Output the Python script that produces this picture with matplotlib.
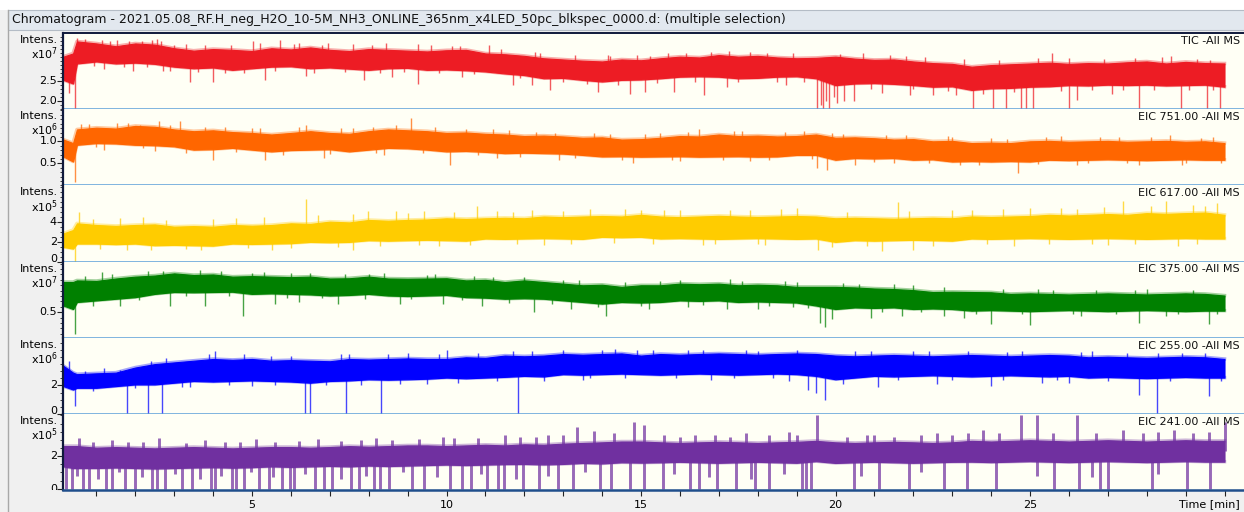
import numpy as np
import matplotlib
matplotlib.use("Agg")
import matplotlib.pyplot as plt
from matplotlib.patches import Rectangle
from matplotlib.lines import Line2D
from matplotlib.ticker import FixedLocator, MultipleLocator
from matplotlib.transforms import blended_transform_factory, offset_copy

W, H = 1244, 512

TITLE = ("Chromatogram - 2021.05.08_RF.H_neg_H2O_10-5M_NH3_ONLINE_365nm_x4LED_"
         "50pc_blkspec_0000.d: (multiple selection)")

# retention time grid [min]
t = [0.15, 0.4, 0.5, 1.0, 1.5, 2.0, 2.5, 3.0, 3.5, 4.0, 4.5, 5.0, 5.5, 6.0, 6.5,
     7.0, 7.5, 8.0, 8.5, 9.0, 9.5, 10.0, 10.5, 11.0, 11.5, 12.0, 12.5, 13.0, 13.5,
     14.0, 14.5, 15.0, 15.5, 16.0, 16.5, 17.0, 17.5, 18.0, 18.5, 19.0, 19.5, 20.0,
     20.5, 21.0, 21.5, 22.0, 22.5, 23.0, 23.5, 24.0, 24.5, 25.0, 25.5, 26.0, 26.5,
     27.0, 27.5, 28.0, 28.5, 29.0, 29.5, 30.0]

# --- TIC (x1e7): noise band upper / lower edge, large spikes, edge noise
tic_hi = [3.10, 3.18, 3.48, 3.43, 3.36, 3.43, 3.40, 3.31, 3.25, 3.29, 3.27, 3.24, 3.31, 3.28,
          3.33, 3.27, 3.24, 3.29, 3.27, 3.25, 3.23, 3.26, 3.27, 3.18, 3.16, 3.12, 3.06, 3.03,
          3.00, 2.98, 3.03, 3.01, 3.06, 3.10, 3.08, 3.14, 3.10, 3.12, 3.08, 3.06, 3.07, 3.10,
          3.05, 3.02, 3.03, 2.98, 2.94, 2.92, 2.85, 2.89, 2.91, 2.93, 2.95, 2.92, 2.94, 2.93,
          2.96, 2.98, 2.93, 2.97, 2.94, 2.93]
tic_lo = [2.52, 2.43, 2.93, 2.98, 2.93, 2.95, 2.92, 2.85, 2.81, 2.83, 2.77, 2.81, 2.85, 2.86,
          2.81, 2.83, 2.80, 2.77, 2.81, 2.82, 2.77, 2.78, 2.76, 2.73, 2.68, 2.64, 2.56, 2.57,
          2.52, 2.48, 2.52, 2.53, 2.56, 2.60, 2.61, 2.60, 2.56, 2.57, 2.60, 2.61, 2.56, 2.39,
          2.43, 2.44, 2.42, 2.39, 2.35, 2.36, 2.27, 2.31, 2.32, 2.35, 2.36, 2.39, 2.38, 2.40,
          2.39, 2.40, 2.38, 2.39, 2.40, 2.35]
tic_dn_t = [0.30, 0.46, 1.93, 3.41, 4.00, 5.33, 7.89, 9.26, 11.72, 12.66, 13.89, 14.72, 15.10,
            15.86, 16.61, 18.74, 19.53, 19.62, 19.68, 19.75, 19.83, 19.95, 20.03, 20.22, 20.48,
            21.91, 23.10, 23.54, 24.05, 24.38, 24.76, 24.91, 25.07, 25.99, 26.22, 27.80, 28.89,
            29.56, 29.88, 1.2, 2.7, 6.4, 8.6, 10.4, 12.2, 17.2, 21.2, 22.5, 27.1]
tic_dn_v = [2.20, 1.79, 2.73, 2.48, 2.48, 2.52, 2.52, 2.43, 2.39, 2.27, 2.23, 2.18, 2.23,
            2.23, 2.14, 2.39, 1.79, 1.90, 1.79, 2.00, 1.79, 2.10, 1.95, 2.00, 2.00,
            2.14, 2.14, 1.79, 1.79, 1.79, 1.79, 1.79, 1.79, 1.79, 2.02, 1.79, 1.79,
            1.79, 1.79, 2.80, 2.75, 2.62, 2.60, 2.58, 2.40, 2.35, 2.20, 2.15, 2.18]
tic_up_t = [0.51, 1.34, 1.54, 2.18, 2.43, 2.67, 3.31, 5.03, 5.72, 6.07, 6.95, 8.09, 9.27,
            10.15, 11.09, 12.27, 14.14, 15.22, 16.16, 17.25, 18.24, 20.12, 21.80, 25.56,
            28.63, 29.62]
tic_up_v = [3.56, 3.50, 3.52, 3.50, 3.52, 3.48, 3.42, 3.48, 3.52, 3.42, 3.45, 3.40, 3.42,
            3.36, 3.39, 3.22, 3.15, 3.12, 3.20, 3.23, 3.18, 3.17, 3.12, 3.20,
            3.12, 3.02]
tic_fr_t = [0.7, 0.95, 1.15, 1.7, 1.85, 2.3, 2.55, 2.9, 3.0, 3.6, 3.8, 4.3, 4.45, 4.8, 5.2,
            5.6, 6.2, 6.6, 6.8, 7.4, 7.6, 8.3, 8.45, 8.9, 9.6, 9.8, 10.35, 10.7, 11.4, 11.9,
            12.4, 13.0, 13.3, 13.6, 14.2, 14.4, 14.9, 15.4, 15.7, 16.4, 16.8, 17.5, 17.8, 18.5,
            18.9, 19.2, 20.7, 20.9, 21.4, 22.0, 22.3, 22.9, 23.3, 23.8, 24.2, 24.6, 25.2, 25.8,
            26.0, 26.6, 26.9, 27.4, 27.7, 28.2, 28.4, 29.1, 29.3, 29.7]
tic_fr_v = [3.55, 2.86, 3.52, 2.84, 3.50, 2.85, 3.55, 2.75, 3.40, 2.72, 3.39, 2.70, 3.40, 2.70,
            3.44, 2.74, 3.45, 2.70, 3.40, 2.72, 3.41, 2.68, 3.44, 2.72, 3.38, 2.68, 3.36, 2.66,
            3.30, 2.56, 3.20, 2.46, 3.15, 2.42, 3.11, 2.40, 3.15, 2.45, 3.20, 2.48, 3.22, 2.46,
            3.22, 2.48, 3.18, 2.46, 3.18, 2.30, 3.14, 2.30, 3.10, 2.25, 3.05, 2.18, 3.02, 2.22,
            3.06, 2.25, 3.06, 2.28, 3.05, 2.27, 3.06, 2.28, 3.08, 2.27, 3.05, 2.28]

# --- EIC 751 (x1e6)
e751_hi = [1.04, 0.96, 1.27, 1.31, 1.29, 1.35, 1.33, 1.27, 1.23, 1.25, 1.21, 1.19, 1.155, 1.19,
           1.23, 1.19, 1.17, 1.23, 1.27, 1.25, 1.23, 1.19, 1.20, 1.17, 1.155, 1.12, 1.13, 1.11,
           1.08, 1.09, 1.04, 1.05, 1.08, 1.12, 1.11, 1.155, 1.12, 1.13, 1.11, 1.12, 1.155, 1.08,
           1.09, 1.07, 1.04, 1.05, 1.00, 1.01, 0.96, 0.97, 0.96, 1.00, 1.01, 0.99, 1.00, 1.01,
           0.99, 1.00, 1.01, 0.99, 1.00, 0.96]
e751_lo = [0.655, 0.54, 0.92, 0.96, 0.95, 0.92, 0.91, 0.885, 0.81, 0.82, 0.85, 0.81, 0.77, 0.80,
           0.81, 0.82, 0.77, 0.81, 0.85, 0.84, 0.81, 0.77, 0.78, 0.76, 0.73, 0.74, 0.73, 0.72,
           0.69, 0.655, 0.66, 0.65, 0.655, 0.66, 0.65, 0.655, 0.66, 0.65, 0.655, 0.69, 0.69,
           0.58, 0.62, 0.61, 0.62, 0.58, 0.59, 0.54, 0.55, 0.54, 0.55, 0.54, 0.58, 0.57, 0.58,
           0.59, 0.58, 0.57, 0.58, 0.59, 0.58, 0.58]
e751_dn_t = [0.46, 1.2, 2.5, 4.0, 5.33, 6.85, 8.4, 10.1, 11.3, 12.9, 14.8, 16.0, 17.8, 19.53,
             19.78, 20.5, 21.5, 23.2, 24.7, 26.2, 27.8, 28.9, 29.9]
e751_dn_v = [0.08, 0.80, 0.77, 0.58, 0.58, 0.62, 0.70, 0.46, 0.62, 0.58, 0.50, 0.55, 0.55, 0.385,
             0.35, 0.46, 0.50, 0.46, 0.27, 0.46, 0.46, 0.46, 0.50]
e751_up_t = [0.6, 1.54, 2.13, 2.62, 3.16, 4.3, 5.0, 6.4, 7.3, 8.1, 9.1, 10.5, 11.6, 12.8, 14.2,
             15.5, 16.5, 17.6, 19.2, 19.9, 21.3, 22.9, 24.0, 25.8, 27.3, 28.6, 29.7]
e751_up_v = [1.40, 1.42, 1.38, 1.46, 1.46, 1.33, 1.31, 1.38, 1.30, 1.33, 1.54, 1.27, 1.25, 1.20,
             1.17, 1.19, 1.27, 1.23, 1.23, 1.19, 1.15, 1.12, 1.08, 1.12, 1.10, 1.15, 1.10]
e751_fr_t = [0.8, 1.0, 1.8, 2.2, 2.9, 3.3, 3.8, 4.6, 5.2, 5.8, 6.2, 7.0, 7.6, 8.2, 8.7, 9.4,
             9.7, 10.8, 11.2, 11.9, 12.3, 13.3, 13.8, 14.5, 15.1, 15.8, 16.2, 17.1, 17.4, 18.3,
             18.7, 19.4, 20.2, 21.0, 21.8, 22.4, 23.0, 23.7, 24.4, 25.2, 25.4, 26.5, 26.8, 27.5,
             28.1, 29.0, 29.4]
e751_fr_v = [1.40, 0.86, 1.42, 0.84, 1.36, 0.74, 1.33, 0.76, 1.30, 0.70, 1.32, 0.72, 1.30, 0.74,
             1.36, 0.74, 1.32, 0.68, 1.27, 0.64, 1.22, 0.62, 1.19, 0.58, 1.17, 0.58, 1.22, 0.58,
             1.23, 0.58, 1.22, 0.60, 1.16, 0.52, 1.14, 0.50, 1.10, 0.46, 1.06, 0.48, 1.10, 0.50,
             1.10, 0.50, 1.10, 0.50, 1.08]

# --- EIC 617 (x1e5)
e617_hi = [2.84, 3.18, 3.86, 3.69, 3.60, 3.69, 3.75, 3.52, 3.58, 3.52, 3.69, 3.62, 3.69, 3.86,
           3.80, 4.03, 3.95, 4.20, 4.12, 4.20, 4.25, 4.37, 4.30, 4.37, 4.42, 4.37, 4.55, 4.48,
           4.55, 4.60, 4.55, 4.72, 4.55, 4.48, 4.55, 4.62, 4.55, 4.50, 4.55, 4.60, 4.55, 4.37,
           4.42, 4.37, 4.32, 4.37, 4.42, 4.37, 4.55, 4.50, 4.55, 4.60, 4.72, 4.65, 4.72, 4.80,
           4.72, 4.89, 4.82, 4.89, 4.95, 4.72]
e617_lo = [1.47, 1.30, 1.81, 1.81, 1.75, 1.81, 1.64, 1.68, 1.64, 1.60, 1.81, 1.77, 1.81, 1.85,
           1.98, 1.94, 1.98, 2.15, 2.10, 2.15, 2.19, 2.15, 2.10, 2.32, 2.28, 2.32, 2.36, 2.32,
           2.28, 2.49, 2.45, 2.49, 2.32, 2.36, 2.32, 2.28, 2.32, 2.36, 2.32, 2.28, 2.32, 1.98,
           2.15, 2.10, 2.15, 2.19, 2.15, 2.10, 2.32, 2.28, 2.32, 2.36, 2.32, 2.28, 2.32, 2.36,
           2.32, 2.28, 2.32, 2.36, 2.32, 2.32]
e617_dn_t = [0.46, 1.79, 3.3, 5.52, 7.59, 9.8, 12.5, 16.6, 18.2, 19.55, 21.2, 22.0, 24.6,
             27.0, 28.8]
e617_dn_v = [0.0, 1.13, 1.30, 1.13, 1.13, 1.60, 1.70, 1.70, 1.70, 1.13, 1.10, 1.13, 1.60,
             1.70, 1.60]
e617_up_t = [0.55, 2.2, 4.6, 6.38, 7.98, 8.7, 9.41, 10.79, 11.7, 13.0, 15.0, 15.6, 17.8, 19.0,
             21.6, 23.0, 25.0, 26.2, 27.4, 28.5, 29.2, 29.8]
e617_up_v = [5.0, 4.5, 4.4, 6.32, 5.06, 5.06, 5.06, 5.64, 5.0, 5.1, 5.23, 5.23, 5.2, 5.4,
             5.98, 5.2, 5.4, 5.3, 6.08, 6.08, 5.7, 5.9]
e617_fr_t = [0.9, 1.1, 1.6, 2.4, 2.8, 3.7, 4.0, 4.9, 5.3, 6.0, 6.7, 7.2, 7.6, 8.3, 9.0, 9.3,
             10.2, 10.6, 11.3, 11.8, 12.2, 13.2, 13.7, 14.3, 14.6, 15.3, 16.0, 16.9, 17.3, 18.0,
             18.6, 19.9, 20.3, 20.8, 21.9, 22.5, 23.5, 23.9, 24.3, 25.5, 25.8, 26.6, 26.9, 27.7,
             28.1, 29.3, 29.5]
e617_fr_v = [4.3, 1.3, 4.4, 1.2, 4.2, 1.2, 4.3, 1.4, 4.5, 1.4, 4.7, 1.5, 4.8, 1.6, 4.9, 1.7,
             5.0, 1.7, 5.1, 1.8, 5.2, 1.8, 5.3, 1.9, 5.3, 1.8, 5.2, 1.8, 5.2, 1.8,
             5.3, 1.5, 5.0, 1.6, 5.1, 1.6, 5.2, 1.8, 5.3, 1.8, 5.4, 1.8, 5.5, 1.8,
             5.6, 1.8, 5.6]

# --- EIC 375 (x1e7)
e375_hi = [1.06, 1.06, 1.09, 1.08, 1.125, 1.16, 1.18, 1.22, 1.19, 1.20, 1.16, 1.17, 1.16, 1.15,
           1.16, 1.125, 1.13, 1.16, 1.125, 1.12, 1.125, 1.13, 1.09, 1.10, 1.06, 1.09, 1.06,
           1.03, 1.00, 1.01, 0.97, 1.00, 1.00, 1.03, 1.02, 1.03, 1.00, 1.01, 1.00, 0.97, 0.97,
           0.97, 0.96, 0.94, 0.93, 0.91, 0.875, 0.88, 0.875, 0.87, 0.84, 0.85, 0.84, 0.83,
           0.84, 0.85, 0.84, 0.83, 0.84, 0.85, 0.84, 0.81]
e375_lo = [0.625, 0.56, 0.69, 0.72, 0.75, 0.78, 0.84, 0.875, 0.87, 0.875, 0.88, 0.84, 0.85,
           0.84, 0.83, 0.81, 0.82, 0.84, 0.81, 0.80, 0.81, 0.82, 0.78, 0.77, 0.75, 0.76, 0.75,
           0.72, 0.69, 0.66, 0.69, 0.68, 0.69, 0.72, 0.71, 0.72, 0.69, 0.70, 0.69, 0.68, 0.625,
           0.56, 0.59, 0.58, 0.59, 0.56, 0.57, 0.56, 0.53, 0.54, 0.53, 0.52, 0.53, 0.54, 0.53,
           0.52, 0.53, 0.54, 0.53, 0.52, 0.53, 0.53]
e375_dn_t = [0.46, 1.6, 2.9, 3.8, 4.77, 5.6, 6.2, 7.2, 8.8, 9.9, 10.9, 12.25, 13.2, 14.1, 15.2,
             16.2, 17.2, 18.0, 18.9, 19.6, 19.73, 19.9, 20.9, 21.7, 22.8, 23.3, 24.0, 25.0,
             26.3, 27.8, 28.5, 29.6]
e375_dn_v = [0.09, 0.62, 0.62, 0.62, 0.44, 0.66, 0.69, 0.66, 0.66, 0.66, 0.62, 0.50, 0.56,
             0.44, 0.56, 0.59, 0.56, 0.56, 0.59, 0.31, 0.22, 0.37, 0.40, 0.44, 0.44, 0.40,
             0.28, 0.26, 0.44, 0.31, 0.44, 0.28]
e375_up_t = [1.15, 2.33, 3.66, 5.0, 6.5, 8.0, 9.5, 11.2, 13.0, 15.5, 17.3, 19.0, 20.2, 22.0,
             25.2, 28.0]
e375_up_v = [1.25, 1.26, 1.28, 1.22, 1.22, 1.20, 1.19, 1.16, 1.10, 1.08, 1.11, 1.06, 1.05,
             1.00, 0.94, 0.94]
e375_fr_t = [0.7, 0.9, 1.4, 2.1, 2.7, 3.3, 4.2, 4.4, 5.3, 5.9, 6.0, 6.8, 7.4, 7.9, 8.4, 9.1,
             9.7, 10.4, 10.7, 11.6, 12.0, 12.7, 13.4, 13.9, 14.6, 15.0, 16.0, 16.6, 17.6, 18.3,
             18.7, 19.3, 20.6, 21.2, 21.5, 22.2, 22.8, 23.6, 24.3, 24.8, 25.6, 26.1, 26.7, 27.2,
             27.7, 28.8, 29.2, 29.8]
e375_fr_v = [1.17, 0.62, 1.20, 0.72, 1.27, 0.80, 1.26, 0.80, 1.24, 0.76, 1.23, 0.76, 1.20, 0.74,
             1.22, 0.74, 1.20, 0.72, 1.17, 0.68, 1.16, 0.66, 1.09, 0.60, 1.06, 0.62, 1.10, 0.64,
             1.08, 0.62, 1.08, 0.58, 1.03, 0.50, 1.02, 0.50, 0.96, 0.47, 0.93, 0.47, 0.92, 0.47,
             0.92, 0.46, 0.92, 0.46, 0.92, 0.47]

# --- EIC 255 (x1e6)
e255_hi = [3.38, 2.90, 2.79, 2.85, 2.90, 3.26, 3.50, 3.62, 3.74, 3.86, 3.80, 3.86, 3.74, 3.78,
           3.74, 3.70, 3.86, 3.82, 3.86, 3.90, 3.86, 3.86, 3.98, 3.94, 4.10, 4.05, 4.10, 4.21,
           4.16, 4.21, 4.25, 4.10, 4.21, 4.16, 4.21, 4.25, 4.21, 4.16, 4.21, 4.25, 4.21, 4.10,
           4.05, 4.10, 4.14, 4.10, 4.05, 4.10, 4.14, 4.10, 4.05, 4.10, 4.14, 4.10, 3.98, 4.02,
           3.98, 3.94, 3.98, 4.02, 3.98, 3.86]
e255_lo = [1.95, 1.71, 1.83, 1.83, 1.95, 2.07, 2.07, 2.19, 2.31, 2.27, 2.31, 2.35, 2.31, 2.27,
           2.19, 2.31, 2.35, 2.43, 2.40, 2.43, 2.47, 2.55, 2.50, 2.55, 2.60, 2.67, 2.63, 2.79,
           2.75, 2.79, 2.83, 2.79, 2.75, 2.79, 2.83, 2.79, 2.75, 2.79, 2.83, 2.79, 2.67, 2.43,
           2.55, 2.67, 2.63, 2.67, 2.71, 2.67, 2.63, 2.67, 2.71, 2.67, 2.63, 2.67, 2.55, 2.59,
           2.55, 2.51, 2.55, 2.59, 2.55, 2.55]
e255_dn_t = [0.46, 1.79, 2.33, 2.69, 3.4, 5.0, 6.36, 6.49, 7.42, 8.32, 9.5, 11.84, 13.5, 16.8,
             18.8, 19.3, 19.5, 19.73, 21.1, 22.6, 24.0, 25.3, 26.0, 27.8, 28.27, 29.6]
e255_dn_v = [0.57, 0.0, 0.0, 0.0, 1.90, 1.95, 0.0, 0.0, 0.0, 0.0, 2.10, 0.0, 2.40, 2.35,
             2.30, 1.70, 1.50, 1.00, 1.90, 2.10, 1.95, 2.20, 2.20, 1.36, 0.0, 1.24]
e255_up_t = [0.3, 1.2, 2.4, 4.05, 5.5, 7.3, 9.0, 10.0, 12.2, 14.33, 14.9, 16.2, 18.0, 20.5,
             22.4, 24.4, 26.6, 28.3, 29.5]
e255_up_v = [3.75, 3.20, 3.70, 4.40, 4.10, 4.20, 4.30, 4.52, 4.40, 4.57, 4.52, 4.50, 4.45,
             4.40, 4.40, 4.35, 4.40, 4.30, 4.30]
e255_fr_t = [0.7, 0.9, 1.6, 2.0, 2.8, 3.2, 3.9, 4.4, 4.8, 5.6, 6.0, 6.9, 7.5, 7.8, 8.5, 8.8,
             9.8, 10.3, 10.8, 11.3, 11.7, 12.5, 13.0, 13.7, 14.0, 14.6, 15.3, 15.9, 16.6, 17.4,
             17.7, 18.4, 19.0, 20.2, 20.9, 21.6, 22.0, 23.0, 23.4, 24.3, 24.8, 25.7, 26.3, 27.0,
             27.5, 28.6, 28.9, 29.9]
e255_fr_v = [3.0, 1.6, 3.1, 1.8, 3.9, 1.9, 4.2, 2.0, 4.2, 2.0, 4.1, 2.0, 4.2, 2.0, 4.2, 2.1,
             4.2, 2.2, 4.3, 2.3, 4.4, 2.3, 4.5, 2.5, 4.5, 2.5, 4.5, 2.5, 4.5, 2.5,
             4.5, 2.5, 4.5, 2.1, 4.4, 2.4, 4.4, 2.4, 4.4, 2.4, 4.4, 2.4, 4.35, 2.3,
             4.3, 2.3, 4.3, 2.3]

# --- EIC 241 (x1e5)
e241_hi = [2.62, 2.62, 2.62, 2.52, 2.56, 2.52, 2.48, 2.52, 2.56, 2.52, 2.48, 2.52, 2.56, 2.56,
           2.52, 2.56, 2.62, 2.58, 2.62, 2.66, 2.66, 2.62, 2.66, 2.70, 2.66, 2.73, 2.70, 2.77,
           2.81, 2.85, 2.90, 2.90, 2.85, 2.81, 2.85, 2.88, 2.85, 2.81, 2.85, 2.88, 2.94, 2.85,
           2.81, 2.85, 2.88, 2.85, 2.81, 2.85, 2.94, 2.90, 2.94, 2.98, 2.94, 2.90, 2.94, 2.98,
           2.94, 2.90, 2.94, 2.98, 2.94, 2.94]
e241_lo = [1.37, 1.27, 1.27, 1.27, 1.30, 1.27, 1.24, 1.27, 1.30, 1.32, 1.29, 1.32, 1.37, 1.34,
           1.37, 1.40, 1.37, 1.42, 1.39, 1.42, 1.45, 1.48, 1.45, 1.48, 1.51, 1.52, 1.49, 1.52,
           1.58, 1.55, 1.62, 1.60, 1.62, 1.65, 1.62, 1.59, 1.62, 1.65, 1.62, 1.59, 1.69, 1.58,
           1.62, 1.65, 1.62, 1.59, 1.62, 1.65, 1.66, 1.63, 1.66, 1.69, 1.66, 1.63, 1.66, 1.69,
           1.66, 1.63, 1.66, 1.69, 1.66, 1.66]
e241_dn_t = [0.21, 0.36, 0.51, 0.65, 0.80, 1.05, 1.25, 1.39, 1.59, 1.74,
             1.98, 2.18, 2.43, 2.57, 2.77, 3.02, 3.21, 3.46, 3.66,
             3.95, 4.05, 4.20, 4.49, 4.59, 4.79, 4.98, 5.18, 5.43, 5.53,
             5.77, 5.97, 6.07, 6.36, 6.61, 6.86, 7.05, 7.30, 7.54, 7.74,
             7.94, 8.13, 8.28, 8.53, 8.87, 9.12, 9.41, 9.76, 10.10, 10.40,
             10.64, 10.89, 11.04, 11.33, 11.48, 11.78, 11.97, 12.37, 12.61, 12.86,
             13.25, 13.55, 13.94, 14.24, 14.73, 15.07,
             15.56, 15.86, 16.26, 16.50, 16.75, 16.95, 17.45, 17.84, 17.94, 18.29,
             18.68, 19.13, 19.23, 19.38, 20.47, 20.66, 21.11, 21.90, 22.20, 22.79,
             23.39, 24.13, 25.17, 25.61, 26.26, 26.60, 26.80, 27.00, 28.14, 28.29,
             29.03, 29.62]
e241_dn_v = [0.0, 0.0, 0.8, 0.0, 0.0, 0.6, 0.0, 0.0, 1.0, 0.0,
             0.0, 0.7, 0.0, 0.0, 0.0, 0.9, 0.0, 0.0, 0.6,
             0.0, 0.0, 0.8, 0.0, 0.0, 0.0, 1.0, 0.0, 0.0, 0.7,
             0.0, 0.0, 0.0, 0.9, 0.0, 0.0, 0.0, 0.6, 0.0, 0.0,
             0.8, 0.0, 0.0, 0.0, 1.0, 0.0, 0.0, 0.7, 0.0, 0.0,
             0.0, 0.9, 0.0, 0.0, 0.0, 0.6, 0.0, 0.0, 0.8, 0.0,
             0.0, 1.0, 0.0, 0.0, 0.0, 0.0,
             0.0, 0.9, 0.0, 0.0, 0.7, 0.0, 0.0, 0.6, 0.0, 0.0,
             0.9, 0.0, 0.0, 0.0, 0.0, 0.8, 0.0, 0.0, 1.0, 0.0,
             0.0, 0.0, 0.8, 0.0, 0.0, 0.7, 0.0, 0.0, 0.0, 0.9,
             0.0, 0.0]
e241_up_t = [0.55, 1.4, 2.6, 3.8, 5.1, 6.7, 8.2, 9.9, 11.5, 12.6, 13.35, 13.8, 14.83, 15.07,
             16.4, 17.7, 18.8, 19.52, 21.0, 22.6, 23.8, 24.77, 25.17, 26.21, 27.4, 28.7, 30.0]
e241_up_v = [3.1, 3.0, 3.1, 3.0, 3.05, 3.05, 3.1, 3.2, 3.3, 3.3, 3.77, 3.56, 4.08, 3.9,
             3.3, 3.4, 3.5, 4.5, 3.3, 3.4, 3.6, 4.55, 4.5, 4.55, 3.6, 3.6, 4.08]
e241_fr_t = [0.9, 1.8, 2.2, 3.3, 4.3, 4.7, 5.6, 6.2, 7.3, 7.8, 8.6, 9.3, 10.2, 10.8, 11.9,
             12.3, 13.0, 14.3, 15.6, 16.0, 16.9, 17.3, 18.3, 19.0, 20.3, 20.8, 21.5, 22.2,
             23.0, 23.4, 24.2, 25.6, 26.7, 27.9, 28.3, 29.2, 29.6]
e241_fr_v = [2.9, 2.85, 2.9, 2.8, 2.85, 2.9, 2.9, 2.95, 2.95, 3.0, 3.0, 3.05, 3.1, 3.1, 3.15,
             3.2, 3.3, 3.4, 3.3, 3.2, 3.3, 3.2, 3.3, 3.3, 3.2, 3.3, 3.2, 3.3,
             3.3, 3.4, 3.4, 3.4, 3.4, 3.4, 3.5, 3.4, 3.5]

traces = [
    dict(name="TIC -All MS", exp=7, color="#ed1c24", ylim=(1.79, 3.69),
         ticks=[2.0, 2.5], labels=["2.0", "2.5"], minor=0.1, spike_lw=1.0,
         hi=tic_hi, lo=tic_lo,
         spikes=[(tic_dn_t, tic_dn_v), (tic_up_t, tic_up_v), (tic_fr_t, tic_fr_v)]),
    dict(name="EIC 751.00 -All MS", exp=6, color="#ff6600", ylim=(0.0, 1.73),
         ticks=[0.5, 1.0], labels=["0.5", "1.0"], minor=0.1, spike_lw=1.0,
         hi=e751_hi, lo=e751_lo,
         spikes=[(e751_dn_t, e751_dn_v), (e751_up_t, e751_up_v), (e751_fr_t, e751_fr_v)]),
    dict(name="EIC 617.00 -All MS", exp=5, color="#ffcc00", ylim=(0.0, 7.7),
         ticks=[0, 2, 4], labels=["0", "2", "4"], minor=0.5, spike_lw=1.0,
         hi=e617_hi, lo=e617_lo,
         spikes=[(e617_dn_t, e617_dn_v), (e617_up_t, e617_up_v), (e617_fr_t, e617_fr_v)]),
    dict(name="EIC 375.00 -All MS", exp=7, color="#008000", ylim=(0.03, 1.44),
         ticks=[0.5], labels=["0.5"], minor=0.1, spike_lw=1.0,
         hi=e375_hi, lo=e375_lo,
         spikes=[(e375_dn_t, e375_dn_v), (e375_up_t, e375_up_v), (e375_fr_t, e375_fr_v)]),
    dict(name="EIC 255.00 -All MS", exp=6, color="#0000ff", ylim=(0.0, 5.36),
         ticks=[0, 2], labels=["0", "2"], minor=0.5, spike_lw=1.0,
         hi=e255_hi, lo=e255_lo,
         spikes=[(e255_dn_t, e255_dn_v), (e255_up_t, e255_up_v), (e255_fr_t, e255_fr_v)]),
    dict(name="EIC 241.00 -All MS", exp=5, color="#7030a0", ylim=(-0.08, 4.6),
         ticks=[0, 2], labels=["0", "2"], minor=0.5, spike_lw=2.1,
         hi=e241_hi, lo=e241_lo,
         spikes=[(e241_dn_t, e241_dn_v), (e241_up_t, e241_up_v), (e241_fr_t, e241_fr_v)]),
]


def fx(px):
    return px / W


def fy(py):
    return 1 - py / H


fig = plt.figure(figsize=(W / 100, H / 100), dpi=100, facecolor="#f0f0f0")
plt.rcParams["font.family"] = ["DejaVu Sans"]

# window chrome: white strip, caption bar, left frame line
fig.patches.append(Rectangle((0, fy(10)), 1, 10 / H, transform=fig.transFigure,
                             facecolor="white", edgecolor="none"))
fig.patches.append(Rectangle((fx(8), fy(30)), 1, 20 / H, transform=fig.transFigure,
                             facecolor="#e2e8ef", edgecolor="#b4bcc6", linewidth=0.8))
fig.lines.append(Line2D([fx(8), fx(8)], [0, fy(10)], transform=fig.transFigure,
                        color="#a8a8a8", linewidth=1))
fig.text(fx(12), fy(19), TITLE, fontsize=9, va="center", ha="left", color="#111111")

top_px, bot_px = 33, 490
left_px = 63
ph = (bot_px - top_px) / 6
tgrid = np.array(t)

for i, tr in enumerate(traces):
    y0 = top_px + i * ph
    ax = fig.add_axes([fx(left_px), fy(y0 + ph), 1 - fx(left_px), ph / H])
    ax.set_facecolor("#fffff5")
    c = tr["color"]
    hi = np.array(tr["hi"])
    lo = np.array(tr["lo"])

    # noise band: solid core, slightly soft edges, then the spikes
    ax.fill_between(tgrid, lo, hi, color=c, linewidth=0.8, edgecolor=c)
    ax.plot(tgrid, hi, color=c, linewidth=2.5, alpha=0.35)
    ax.plot(tgrid, lo, color=c, linewidth=2.5, alpha=0.35)

    mid = (hi + lo) / 2
    for st, sv in tr["spikes"]:
        st = np.array(st)
        base = np.interp(st, tgrid, mid)
        ax.vlines(st, sv, base, color=c, linewidth=tr["spike_lw"], alpha=0.72)

    ax.set_xlim((63 - 57.5) / 38.9, (1244 - 57.5) / 38.9)
    ax.set_ylim(*tr["ylim"])

    ax.yaxis.set_major_locator(FixedLocator(tr["ticks"]))
    ax.yaxis.set_minor_locator(MultipleLocator(tr["minor"]))
    ax.tick_params(axis="y", which="major", length=4, width=0.8, labelleft=False,
                   color="#222222")
    ax.tick_params(axis="y", which="minor", length=2.5, width=0.6, color="#222222")

    # y tick labels; a "0" sitting on the panel boundary is cut by the panel below
    clip = Rectangle((0, fy(y0 + ph)), fx(left_px), ph / H, transform=fig.transFigure)
    ytrans = blended_transform_factory(fig.transFigure, ax.transData)
    for val, lab in zip(tr["ticks"], tr["labels"]):
        on_edge = abs(val - tr["ylim"][0]) < 0.01
        trans = offset_copy(ytrans, fig=fig, y=3 if on_edge else 0, units="dots")
        txt = fig.text(fx(57), val, lab, fontsize=8, ha="right", va="center",
                       transform=trans)
        txt.set_clip_path(clip)

    ax.xaxis.set_major_locator(MultipleLocator(5))
    ax.xaxis.set_minor_locator(MultipleLocator(1))
    if i < 5:
        ax.tick_params(axis="x", which="both", bottom=False, labelbottom=False)
    else:
        ax.set_xticks([5, 10, 15, 20, 25])
        ax.tick_params(axis="x", which="major", length=4, width=0.8, labelsize=8, pad=3,
                       color="#222222")
        ax.tick_params(axis="x", which="minor", length=4, width=0.8, color="#222222")

    ax.spines["right"].set_visible(False)
    ax.spines["left"].set_color("#101a3c")
    ax.spines["left"].set_linewidth(1.6)
    ax.spines["top"].set_visible(i == 0)
    ax.spines["top"].set_color("#101a3c")
    ax.spines["top"].set_linewidth(1.4)
    ax.spines["bottom"].set_color("#5b9fd8" if i < 5 else "#1f4e8c")
    ax.spines["bottom"].set_linewidth(1.8)

    fig.text(fx(58), fy(y0 + 7), "Intens.", fontsize=8, ha="right", va="center")
    fig.text(fx(58), fy(y0 + 21), "x10$^{%d}$" % tr["exp"], fontsize=8,
             ha="right", va="center")
    fig.text(fx(1240), fy(y0 + 8), tr["name"], fontsize=8, ha="right", va="center",
             color="#111111")

fig.text(fx(1240), fy(504), "Time [min]", fontsize=8, ha="right", va="center")

fig.savefig("out.png", dpi=100, facecolor=fig.get_facecolor())
